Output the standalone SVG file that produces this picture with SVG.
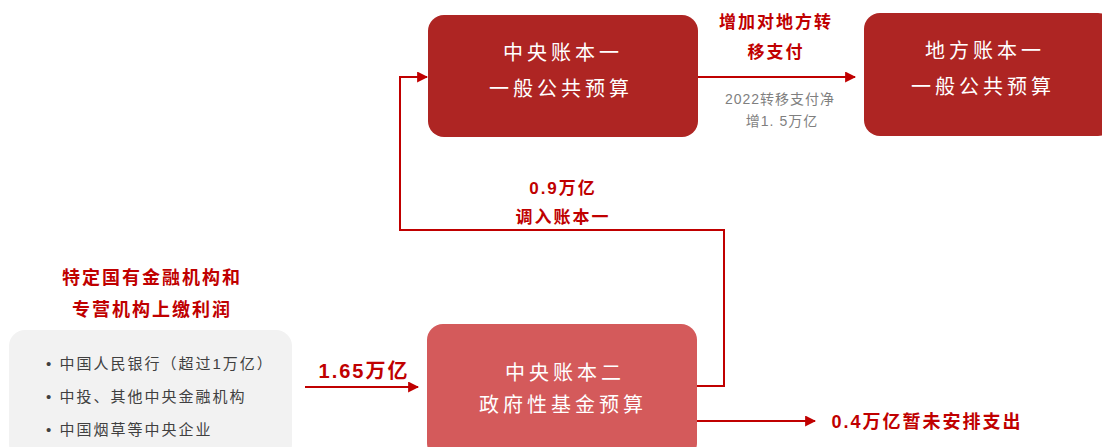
<svg xmlns="http://www.w3.org/2000/svg" width="1102" height="447" viewBox="0 0 1102 447">
<style>
.box-dark{fill:#AE2523}
.box-light{fill:#D45A5B}
.box-grey{fill:#F2F2F2}
.bt{font-family:"Liberation Serif","Noto Sans CJK SC",serif;font-size:20px;fill:#FFFFFF;text-anchor:middle;letter-spacing:4px}
.lbl{font-family:"Liberation Sans","Noto Sans CJK SC",sans-serif;font-size:17px;font-weight:bold;fill:#C00000;text-anchor:middle;letter-spacing:2px}
.gry{font-family:"Liberation Sans","Noto Sans CJK SC",sans-serif;font-size:14px;fill:#7F7F7F;text-anchor:middle;letter-spacing:1px}
.bul{font-family:"Liberation Sans","Noto Sans CJK SC",sans-serif;font-size:15px;fill:#404040;letter-spacing:2px}
.con{fill:none;stroke:#C00000;stroke-width:2}
</style>
<defs>
<marker id="ah" viewBox="0 0 10 10" refX="9" refY="5" markerWidth="5.5" markerHeight="5.5" orient="auto"><path d="M0,0 L10,5 L0,10 z" fill="#C00000"/></marker>
</defs>
<g id="connectors">
<line class="con" x1="698" y1="77" x2="855" y2="77" marker-end="url(#ah)"/>
<polyline class="con" points="697,386 724,386 724,230 400,230 400,77 427,77" marker-end="url(#ah)"/>
<line class="con" x1="305" y1="387" x2="418" y2="387" marker-end="url(#ah)"/>
<line class="con" x1="697" y1="421" x2="815" y2="421" marker-end="url(#ah)"/>
</g>
<g id="node-central1">
<rect class="box-dark" x="428" y="15" width="270" height="122" rx="16"/>
<text class="bt" x="563" y="60">中央账本一</text>
<text class="bt" x="561" y="96">一般公共预算</text>
</g>
<g id="node-local1">
<rect class="box-dark" x="864" y="13" width="250" height="123" rx="16"/>
<text class="bt" x="985" y="58">地方账本一</text>
<text class="bt" x="983" y="94">一般公共预算</text>
</g>
<g id="node-central2">
<rect class="box-light" x="427" y="324" width="270" height="135" rx="16"/>
<text class="bt" x="565" y="380">中央账本二</text>
<text class="bt" x="563" y="412">政府性基金预算</text>
</g>
<g id="node-sources">
<rect class="box-grey" x="9" y="330" width="283" height="130" rx="16"/>
<text class="bul" x="46" y="369">• 中国人民银行（超过1万亿）</text>
<text class="bul" x="46" y="402">• 中投、其他中央金融机构</text>
<text class="bul" x="46" y="435">• 中国烟草等中央企业</text>
</g>
<g id="labels">
<text class="lbl" x="776" y="28">增加对地方转</text>
<text class="lbl" x="776" y="58">移支付</text>
<text class="gry" x="780" y="104">2022转移支付净</text>
<text class="gry" x="782" y="126">增1. 5万亿</text>
<text class="lbl" x="563" y="194">0.9万亿</text>
<text class="lbl" x="563" y="223">调入账本一</text>
<text class="lbl" x="152" y="284" style="font-size:18px">特定国有金融机构和</text>
<text class="lbl" x="152" y="316" style="font-size:18px">专营机构上缴利润</text>
<text class="lbl" x="364" y="378" style="font-size:20px">1.65万亿</text>
<text class="lbl" x="927" y="428" style="font-size:18px">0.4万亿暂未安排支出</text>
</g>
</svg>
